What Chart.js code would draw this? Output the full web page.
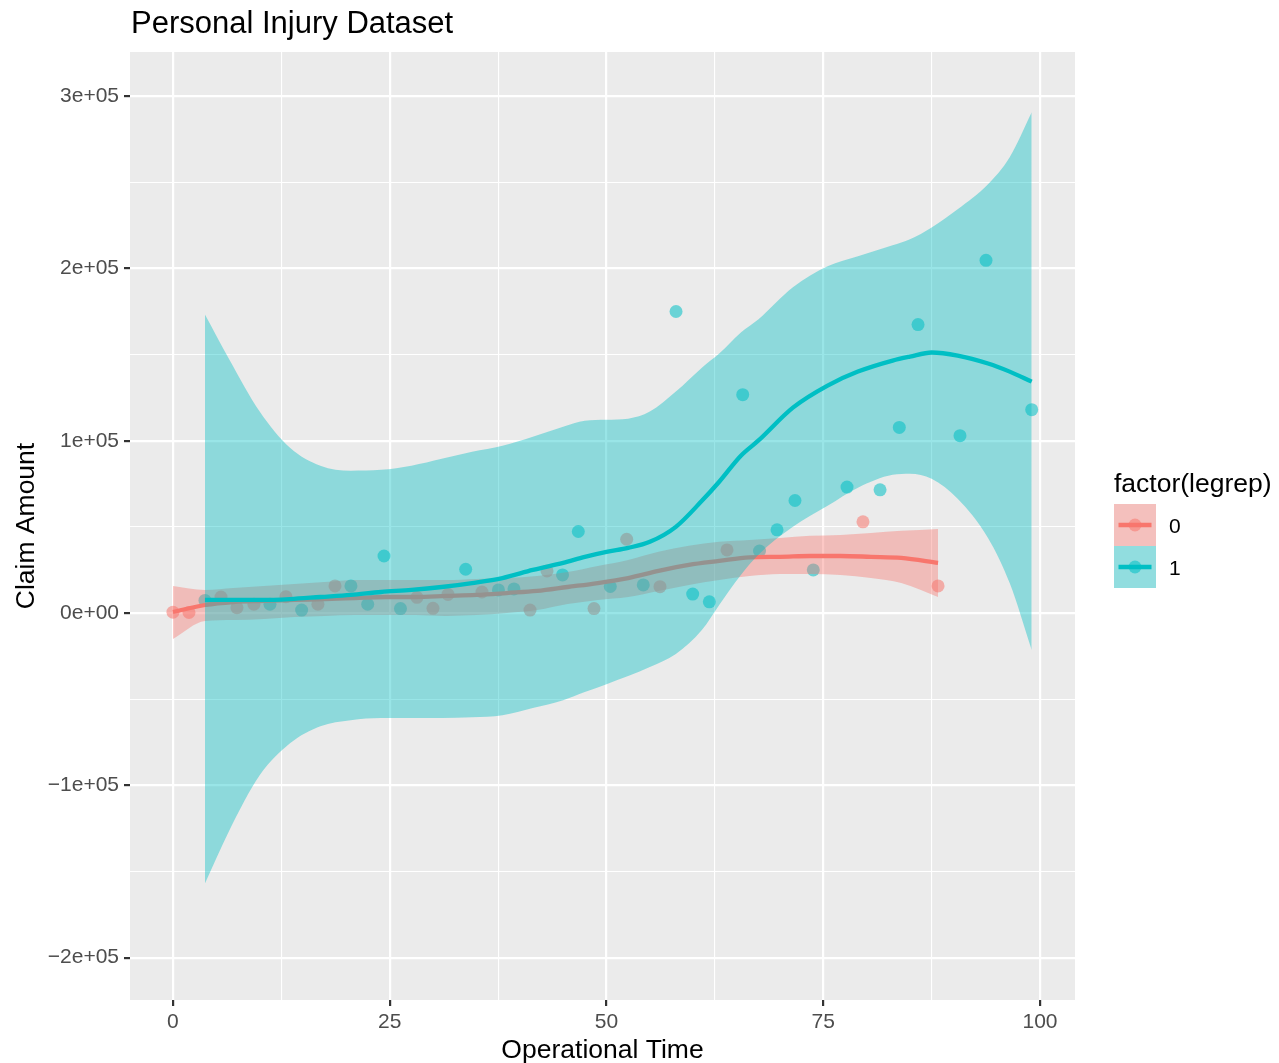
<!DOCTYPE html>
<html>
<head>
<meta charset="utf-8">
<title>Personal Injury Dataset</title>
<script src="https://cdn.jsdelivr.net/npm/chart.js@4.4.0/dist/chart.umd.min.js"></script>
<style>
  html, body { margin: 0; padding: 0; background: #ffffff; }
  canvas { display: block; }
</style>
</head>
<body>
<canvas id="chart" width="1279" height="1063"></canvas>
<script>
// ---- observations (operational time vs. claim amount), split by legrep ----
const group0X = [0, 1.85, 5.54, 7.38, 9.34, 13.03, 16.72, 18.69, 28.14, 29.99, 31.72, 35.64, 41.18, 43.14, 48.56, 52.33, 56.17, 63.9, 79.58, 88.24];
const group0Y = [500, 300, 9300, 3100, 5100, 9500, 5100, 15700, 9100, 2700, 10800, 12200, 1700, 24400, 2600, 42800, 15300, 36600, 52900, 15700];

const group1X = [3.69, 11.19, 14.84, 20.53, 22.46, 24.34, 26.24, 33.76, 37.54, 39.33, 44.93, 46.75, 50.44, 54.24, 58.02, 59.94, 61.86, 65.71, 67.65, 69.67, 71.74, 73.85, 77.74, 81.55, 83.77, 85.93, 90.77, 93.77, 99.04];
const group1Y = [7300, 5100, 1700, 15700, 5100, 33100, 2600, 25400, 13400, 14000, 22100, 47300, 15400, 16300, 175000, 11000, 6500, 126700, 36000, 48300, 65300, 25000, 73100, 71500, 107700, 167400, 102900, 204700, 118000];

// ---- loess fits with confidence bands ----
const fit0X  = [0, 3.7, 7, 10.5, 14, 17.5, 21, 24.5, 28, 31.5, 35, 38.5, 42, 45.5, 49, 52.5, 56, 59.5, 63, 66.5, 70, 73.5, 77, 80.5, 84, 88.24];
const fit0Y  = [600, 4650, 6400, 7000, 7600, 8100, 8700, 9300, 9300, 9900, 10500, 11600, 12800, 15100, 17400, 20300, 24400, 27900, 30200, 32300, 32600, 33100, 33100, 32600, 32000, 29100];
const fit0Hi = [15700, 13400, 14500, 15700, 16900, 18000, 19200, 19200, 19200, 19200, 19800, 20300, 21500, 23800, 27300, 30800, 35500, 39000, 41300, 42400, 43600, 44800, 45300, 46500, 47700, 48800];
const fit0Lo = [-15100, -4700, -4100, -3500, -2300, -1700, -1200, -1200, -1200, -1700, -1200, 0, 1700, 5200, 7600, 9300, 12800, 16300, 19200, 21500, 22700, 22700, 22100, 20300, 17400, 9300];

const fit1X  = [3.69, 6.5, 10, 13.5, 17, 20.5, 24, 27.5, 31, 34.5, 38, 41.5, 45, 47.5, 50, 52.5, 55, 58, 61, 63, 65.5, 67.5, 71.5, 75.5, 79, 83, 85, 87.5, 90.5, 94, 96.5, 99.04];
const fit1Y  = [7600, 7600, 7600, 8100, 9300, 10500, 12200, 13400, 15100, 17400, 20300, 25000, 29100, 32600, 35500, 37800, 41300, 50000, 65100, 76200, 91300, 100000, 119200, 132000, 140100, 146500, 148800, 151200, 149400, 144800, 140100, 134300];
const fit1Hi = [173300, 147100, 116900, 95900, 85500, 82600, 83100, 85500, 89500, 93600, 97100, 102300, 108100, 111600, 112200, 112800, 116900, 128500, 142400, 150600, 162800, 170300, 189000, 201200, 207000, 213400, 216900, 223800, 234300, 248800, 264500, 290700];
const fit1Lo = [-157000, -126200, -94200, -75600, -65700, -62200, -61000, -61000, -61000, -60500, -59300, -55200, -50600, -45900, -41300, -36600, -31400, -23800, -9900, 4700, 22100, 33700, 50000, 62200, 72700, 80200, 80800, 77900, 66300, 43600, 17400, -21500];

// ---- axis ticks and legend ----
const xTickValues = [0, 25, 50, 75, 100];
const xTickLabels = ['0', '25', '50', '75', '100'];
const yTickValues = [-200000, -100000, 0, 100000, 200000, 300000];
const yTickLabels = ['\u22122e+05', '\u22121e+05', '0e+00', '1e+05', '2e+05', '3e+05'];
const legendLabels = ['0', '1'];

const FONT = '"Liberation Sans", Arial, Helvetica, sans-serif';
const RED = '#F8766D';
const TEAL = '#00BFC4';
const RED_BAND = 'rgba(248,118,109,0.4)';
const TEAL_BAND = 'rgba(0,191,196,0.4)';
const RED_PT = 'rgba(248,118,109,0.55)';
const TEAL_PT = 'rgba(0,191,196,0.55)';
const FIT_WIDTH = 4.3;

const pts = (xs, ys) => xs.map((x, i) => ({ x, y: ys[i] }));

// major breaks plus the minor breaks halfway between them
const withMinor = majors => {
  const out = [];
  majors.forEach((v, i) => {
    out.push(v);
    if (i < majors.length - 1) out.push((v + majors[i + 1]) / 2);
  });
  return out;
};

const lineDefaults = {
  type: 'line',
  pointRadius: 0,
  pointHoverRadius: 0,
  cubicInterpolationMode: 'monotone',
  spanGaps: true
};

const datasets = [
  // 0: fit line, group 1 (on top)
  Object.assign({}, lineDefaults, { label: 'fit1', data: pts(fit1X, fit1Y), borderColor: TEAL, borderWidth: FIT_WIDTH, fill: false, order: 0 }),
  // 1-2: confidence band, group 1
  Object.assign({}, lineDefaults, { label: 'hi1', data: pts(fit1X, fit1Hi), borderWidth: 0, borderColor: 'rgba(0,0,0,0)', backgroundColor: TEAL_BAND, fill: 2, order: 1 }),
  Object.assign({}, lineDefaults, { label: 'lo1', data: pts(fit1X, fit1Lo), borderWidth: 0, borderColor: 'rgba(0,0,0,0)', fill: false, order: 1 }),
  // 3: fit line, group 0
  Object.assign({}, lineDefaults, { label: 'fit0', data: pts(fit0X, fit0Y), borderColor: RED, borderWidth: FIT_WIDTH, fill: false, order: 2 }),
  // 4-5: confidence band, group 0
  Object.assign({}, lineDefaults, { label: 'hi0', data: pts(fit0X, fit0Hi), borderWidth: 0, borderColor: 'rgba(0,0,0,0)', backgroundColor: RED_BAND, fill: 5, order: 3 }),
  Object.assign({}, lineDefaults, { label: 'lo0', data: pts(fit0X, fit0Lo), borderWidth: 0, borderColor: 'rgba(0,0,0,0)', fill: false, order: 3 }),
  // 6-7: observations
  { type: 'scatter', label: 'obs0', data: pts(group0X, group0Y), backgroundColor: RED_PT, borderWidth: 0, pointRadius: 6.5, pointHoverRadius: 6.5, order: 4 },
  { type: 'scatter', label: 'obs1', data: pts(group1X, group1Y), backgroundColor: TEAL_PT, borderWidth: 0, pointRadius: 6.5, pointHoverRadius: 6.5, order: 4 }
];

const isMajorX = v => xTickValues.indexOf(v) >= 0;
const isMajorY = v => yTickValues.indexOf(v) >= 0;

// grey panel behind the plotting area
const panelBackground = {
  id: 'panelBackground',
  beforeDraw(chart) {
    const { ctx, chartArea: a } = chart;
    ctx.save();
    ctx.fillStyle = '#ffffff';
    ctx.fillRect(0, 0, chart.width, chart.height);
    ctx.fillStyle = '#EBEBEB';
    ctx.fillRect(a.left, a.top, a.right - a.left, a.bottom - a.top);
    ctx.restore();
  }
};

// title, axis titles and the legend
const decorations = {
  id: 'decorations',
  afterDraw(chart) {
    const { ctx, chartArea: a } = chart;
    ctx.save();
    ctx.fillStyle = '#000000';
    ctx.textBaseline = 'alphabetic';

    ctx.font = '31px ' + FONT;
    ctx.textAlign = 'left';
    ctx.fillText('Personal Injury Dataset', a.left + 1, 33);

    ctx.font = '26.5px ' + FONT;
    ctx.textAlign = 'center';
    ctx.fillText('Operational Time', (a.left + a.right) / 2, 1058);

    ctx.save();
    ctx.translate(34, (a.top + a.bottom) / 2);
    ctx.rotate(-Math.PI / 2);
    ctx.fillText('Claim Amount', 0, 0);
    ctx.restore();

    // legend
    const lx = 1114, ly = 504, kw = 42, kh = 42;
    ctx.textAlign = 'left';
    ctx.font = '26.5px ' + FONT;
    ctx.fillText('factor(legrep)', lx, 492);
    const keys = [
      { band: RED_BAND, pt: RED_PT, line: RED },
      { band: TEAL_BAND, pt: TEAL_PT, line: TEAL }
    ];
    keys.forEach((k, i) => {
      const top = ly + i * kh;
      ctx.fillStyle = '#F2F2F2';
      ctx.fillRect(lx, top, kw, kh);
      ctx.fillStyle = k.band;
      ctx.fillRect(lx, top, kw, kh);
      const cy = top + kh / 2;
      ctx.fillStyle = k.pt;
      ctx.beginPath();
      ctx.arc(lx + kw / 2, cy, 6.5, 0, Math.PI * 2);
      ctx.fill();
      ctx.strokeStyle = k.line;
      ctx.lineWidth = FIT_WIDTH;
      ctx.beginPath();
      ctx.moveTo(lx + 4.5, cy);
      ctx.lineTo(lx + kw - 4.5, cy);
      ctx.stroke();
      ctx.fillStyle = '#000000';
      ctx.font = '21px ' + FONT;
      ctx.fillText(legendLabels[i], lx + 55, cy + 7.5);
    });
    ctx.restore();
  }
};

new Chart(document.getElementById('chart'), {
  type: 'scatter',
  data: { datasets },
  plugins: [panelBackground, decorations],
  options: {
    responsive: false,
    devicePixelRatio: 1,
    animation: false,
    events: [],
    layout: { padding: { left: 0, top: 52, right: 204, bottom: 0 } },
    plugins: {
      legend: { display: false },
      title: { display: false },
      tooltip: { enabled: false },
      filler: { propagate: false }
    },
    scales: {
      x: {
        type: 'linear',
        min: -4.954,
        max: 104.034,
        afterFit(scale) { scale.height = 63; },
        afterBuildTicks(scale) { scale.ticks = withMinor(xTickValues).map(v => ({ value: v })); },
        border: { display: false },
        grid: {
          color: '#FFFFFF',
          lineWidth: c => (isMajorX(c.tick.value) ? 2.2 : 1.1),
          tickColor: c => (isMajorX(c.tick.value) ? '#333333' : 'rgba(0,0,0,0)'),
          tickWidth: 2.2,
          tickLength: 6,
          drawTicks: true
        },
        ticks: {
          autoSkip: false,
          maxRotation: 0,
          padding: 4,
          color: '#4D4D4D',
          font: { family: FONT, size: 21 },
          callback: v => { const i = xTickValues.indexOf(v); return i >= 0 ? xTickLabels[i] : ''; }
        }
      },
      y: {
        type: 'linear',
        min: -224600,
        max: 325600,
        afterFit(scale) { scale.width = 130; },
        afterBuildTicks(scale) { scale.ticks = withMinor(yTickValues).map(v => ({ value: v })); },
        border: { display: false },
        grid: {
          color: '#FFFFFF',
          lineWidth: c => (isMajorY(c.tick.value) ? 2.2 : 1.1),
          tickColor: c => (isMajorY(c.tick.value) ? '#333333' : 'rgba(0,0,0,0)'),
          tickWidth: 2.2,
          tickLength: 6,
          drawTicks: true
        },
        ticks: {
          autoSkip: false,
          padding: 5,
          color: '#4D4D4D',
          font: { family: FONT, size: 21 },
          callback: v => { const i = yTickValues.indexOf(v); return i >= 0 ? yTickLabels[i] : ''; }
        }
      }
    }
  }
});
</script>
</body>
</html>
